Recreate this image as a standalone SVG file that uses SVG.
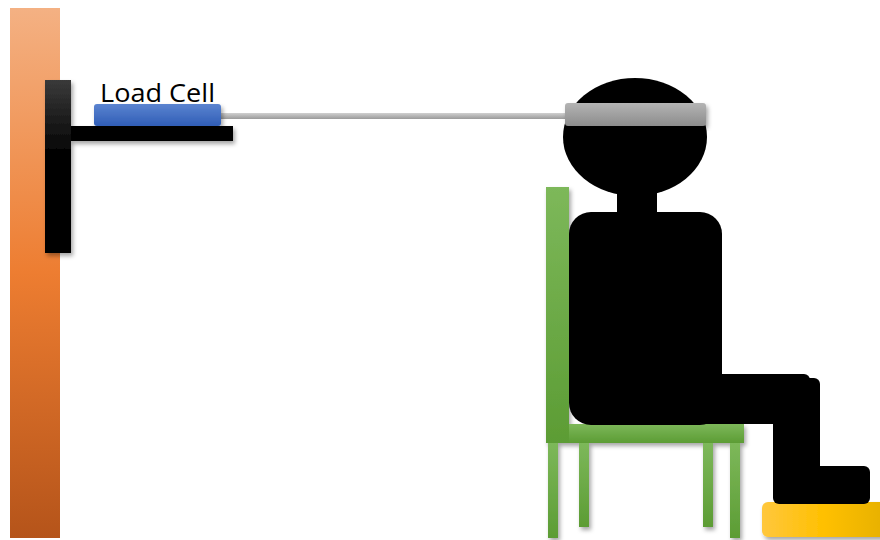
<svg xmlns="http://www.w3.org/2000/svg" width="880" height="540" viewBox="0 0 880 540">
  <defs>
    <linearGradient id="wallGrad" x1="0" y1="0" x2="0" y2="1">
      <stop offset="0" stop-color="#f4b183"/>
      <stop offset="0.5" stop-color="#ed7d31"/>
      <stop offset="1" stop-color="#b5541a"/>
    </linearGradient>
    <linearGradient id="bracketGrad" x1="0" y1="0" x2="0" y2="1">
      <stop offset="0" stop-color="#3a3a3a"/>
      <stop offset="0.45" stop-color="#000"/>
      <stop offset="1" stop-color="#000"/>
    </linearGradient>
    <linearGradient id="cellGrad" x1="0" y1="0" x2="0" y2="1">
      <stop offset="0" stop-color="#5b84d0"/>
      <stop offset="1" stop-color="#2f5db6"/>
    </linearGradient>
    <linearGradient id="rodGrad" x1="0" y1="0" x2="0" y2="1">
      <stop offset="0" stop-color="#d0d0d0"/>
      <stop offset="1" stop-color="#9a9a9a"/>
    </linearGradient>
    <linearGradient id="bandGrad" x1="0" y1="0" x2="0" y2="1">
      <stop offset="0" stop-color="#b4b4b4"/>
      <stop offset="1" stop-color="#8c8c8c"/>
    </linearGradient>
    <linearGradient id="chairGrad" x1="0" y1="0" x2="0" y2="1">
      <stop offset="0" stop-color="#7db85a"/>
      <stop offset="1" stop-color="#5c9c34"/>
    </linearGradient>
    <linearGradient id="restGrad" x1="0" y1="0" x2="1" y2="0">
      <stop offset="0" stop-color="#ffc73d"/>
      <stop offset="0.5" stop-color="#ffc000"/>
      <stop offset="1" stop-color="#e6b000"/>
    </linearGradient>
    <filter id="shadow" x="-20%" y="-20%" width="140%" height="140%">
      <feDropShadow dx="2" dy="3" stdDeviation="2" flood-color="#000" flood-opacity="0.35"/>
    </filter>
  </defs>
  <style>
    .label { font-family: "Open Sans", "Liberation Sans", Arial, sans-serif; font-size: 26px; fill: #000; }
    .body { fill: #000; }
  </style>

  <rect width="880" height="540" fill="#fff"/>

  <!-- wall -->
  <g id="wall">
    <rect x="10" y="8" width="50" height="530" fill="url(#wallGrad)"/>
  </g>

  <!-- wall bracket with shelf -->
  <g id="bracket" filter="url(#shadow)">
    <rect x="45" y="80" width="26" height="173" fill="url(#bracketGrad)"/>
    <rect x="71" y="126" width="162" height="15" fill="#000"/>
  </g>

  <!-- rod from load cell to headband -->
  <g id="rod">
    <rect x="218" y="113" width="352" height="6" fill="url(#rodGrad)"/>
  </g>

  <!-- load cell -->
  <g id="load-cell">
    <rect x="94" y="104" width="127" height="22" rx="3" fill="url(#cellGrad)" filter="url(#shadow)"/>
    <text class="label" x="100" y="102" textLength="115" lengthAdjust="spacingAndGlyphs">Load Cell</text>
  </g>

  <!-- chair -->
  <g id="chair" fill="url(#chairGrad)" filter="url(#shadow)">
    <rect x="548" y="443" width="10" height="95"/>
    <rect x="579" y="443" width="10" height="84"/>
    <rect x="703" y="443" width="10" height="84"/>
    <rect x="730" y="443" width="10" height="95"/>
    <rect x="569" y="424" width="175" height="19"/>
    <rect x="546" y="187" width="23" height="256"/>
  </g>

  <!-- foot rest -->
  <g id="foot-rest">
    <rect x="762" y="502" width="125" height="35" rx="6" fill="url(#restGrad)" filter="url(#shadow)"/>
  </g>

  <!-- seated person -->
  <g id="person" class="body">
    <rect x="617" y="180" width="40" height="40"/>
    <ellipse cx="635" cy="137" rx="72" ry="59"/>
    <rect x="569" y="212" width="153" height="213" rx="22"/>
    <rect x="650" y="374" width="160" height="50" rx="6"/>
    <rect x="773" y="378" width="47" height="110" rx="6"/>
    <rect x="773" y="466" width="97" height="38" rx="6"/>
  </g>

  <!-- headband -->
  <g id="headband">
    <rect x="565" y="103" width="141" height="23" rx="3" fill="url(#bandGrad)" filter="url(#shadow)"/>
  </g>
</svg>
